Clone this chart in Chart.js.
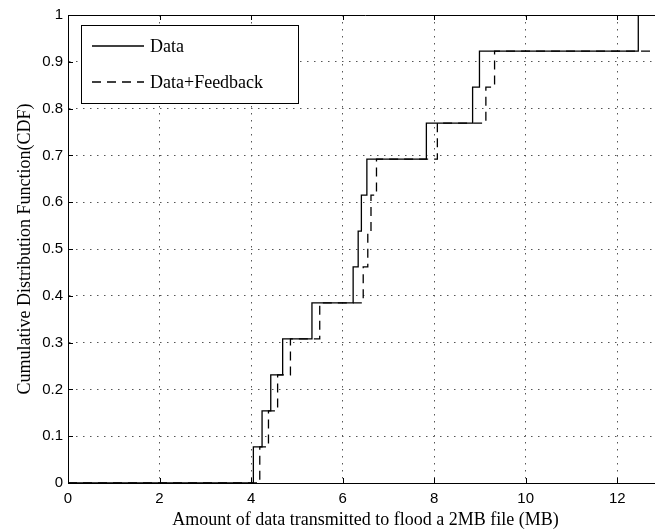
<!DOCTYPE html>
<html lang="en">
<head>
    <title>CDF of data transmitted</title>
    <script src="https://cdn.jsdelivr.net/npm/chart.js@4.4.0/dist/chart.umd.min.js"></script>
    <style>
        html, body { margin: 0; padding: 0; overflow: hidden; background: #fff; }
        canvas { display: block; }
    </style>
</head>
<body>
    <canvas id="cdfChart" width="670" height="531"></canvas>

<script>
    /* step positions (MB), one per sample */
    const dataX = [0, 4.05, 4.24, 4.43, 4.69, 5.33, 6.23, 6.34, 6.41, 6.53, 7.83, 8.84, 8.99, 12.46];
    const feedbackX = [0, 4.19, 4.38, 4.58, 4.86, 5.50, 6.45, 6.55, 6.62, 6.74, 8.07, 9.13, 9.32, 13.4];
    const cdfY = [0, 0.077, 0.154, 0.231, 0.308, 0.385, 0.462, 0.538, 0.615, 0.692, 0.769, 0.846, 0.923, 1];
    const xEnd = 14;   // cdf keeps going at 1 past the right edge
    const xTicks = [0, 2, 4, 6, 8, 10, 12];
    const yTicks = [0, 0.1, 0.2, 0.3, 0.4, 0.5, 0.6, 0.7, 0.8, 0.9, 1];

    const serif = "'Liberation Serif', 'Times New Roman', serif";
    const sans = "'Liberation Sans', Arial, sans-serif";

    function toPoints(xs){
        const pts = xs.map((x, i) => ({x: x, y: cdfY[i]}));
        pts.push({x: xEnd, y: cdfY[cdfY.length - 1]});
        return pts;
    }

    /* box on top, inward tick marks and the legend, drawn like matlab does */
    const matlabFrame = {
        id: 'matlabFrame',
        afterDraw(chart){
            const ctx = chart.ctx;
            const ca = chart.chartArea;
            const xs = chart.scales.x, ys = chart.scales.y;
            ctx.save();
            ctx.strokeStyle = '#000';
            ctx.lineWidth = 1;
            ctx.setLineDash([]);
            ctx.beginPath();
            ctx.moveTo(ca.left, ca.top + 0.5);
            ctx.lineTo(ca.right, ca.top + 0.5);
            const tl = 5;
            xTicks.forEach(v => {
                const px = Math.round(xs.getPixelForValue(v)) + 0.5;
                ctx.moveTo(px, ca.bottom); ctx.lineTo(px, ca.bottom - tl);
                ctx.moveTo(px, ca.top); ctx.lineTo(px, ca.top + tl);
            });
            yTicks.forEach(v => {
                const py = Math.round(ys.getPixelForValue(v)) + 0.5;
                ctx.moveTo(ca.left, py); ctx.lineTo(ca.left + tl, py);
            });
            ctx.stroke();

            // legend box
            const lx = ca.left + 13, ly = ca.top + 10, lw = 217, lh = 78;
            ctx.fillStyle = '#fff';
            ctx.fillRect(lx, ly, lw, lh);
            ctx.strokeRect(lx + 0.5, ly + 0.5, lw, lh);
            ctx.font = '18px ' + serif;
            ctx.textBaseline = 'middle';
            ctx.fillStyle = '#000';
            chart.data.datasets.forEach((ds, i) => {
                const rowY = ly + 21 + i * 36;
                ctx.lineWidth = ds.borderWidth;
                ctx.setLineDash(ds.borderDash || []);
                ctx.beginPath();
                ctx.moveTo(lx + 11, rowY);
                ctx.lineTo(lx + 63, rowY);
                ctx.stroke();
                ctx.setLineDash([]);
                ctx.fillText(ds.label, lx + 69, rowY + 1);
            });
            ctx.restore();
        }
    };

    const ctx = document.getElementById('cdfChart').getContext('2d');
    const cdfChart = new Chart(ctx, {
        type: 'line',
        data: {
            datasets: [{
                label: 'Data',
                data: toPoints(dataX),
                borderColor: '#000',
                borderWidth: 1.3,
                stepped: 'before',
                pointRadius: 0,
                fill: false
            }, {
                label: 'Data+Feedback',
                data: toPoints(feedbackX),
                borderColor: '#000',
                borderWidth: 1.3,
                borderDash: [9, 6],
                stepped: 'before',
                pointRadius: 0,
                fill: false
            }]
        },
        options: {
            responsive: false,
            animation: false,
            devicePixelRatio: 1,
            layout: {
                padding: { top: 15, right: 7, left: 0, bottom: 0 }
            },
            plugins: {
                legend: { display: false },
                tooltip: { enabled: false }
            },
            scales: {
                x: {
                    type: 'linear',
                    min: 0,
                    max: 13,
                    afterBuildTicks: s => { s.ticks = xTicks.map(v => ({value: v})); },
                    afterFit: s => { s.height = 48; },
                    ticks: {
                        color: '#000',
                        padding: 7,
                        font: { family: sans, size: 15 }
                    },
                    grid: { color: '#555', lineWidth: 1, drawTicks: false },
                    border: { display: true, color: '#000', width: 1, dash: [1.5, 5.5] },
                    title: {
                        display: true,
                        text: 'Amount of data transmitted to flood a 2MB file (MB)',
                        color: '#000',
                        padding: { top: 0, bottom: 0 },
                        font: { family: serif, size: 18 }
                    }
                },
                y: {
                    type: 'linear',
                    min: 0,
                    max: 1,
                    afterBuildTicks: s => { s.ticks = yTicks.map(v => ({value: v})); },
                    afterFit: s => { s.width = 68; },
                    ticks: {
                        color: '#000',
                        padding: 5,
                        font: { family: sans, size: 15 },
                        callback: v => String(v)
                    },
                    grid: { color: '#555', lineWidth: 1, drawTicks: false },
                    border: { display: true, color: '#000', width: 1, dash: [1.5, 5.5] },
                    title: {
                        display: true,
                        text: 'Cumulative Distribution Function(CDF)',
                        color: '#000',
                        padding: { top: 14, bottom: 0 },
                        font: { family: serif, size: 18 }
                    }
                }
            }
        },
        plugins: [matlabFrame]
    });
</script>
</body>
</html>
